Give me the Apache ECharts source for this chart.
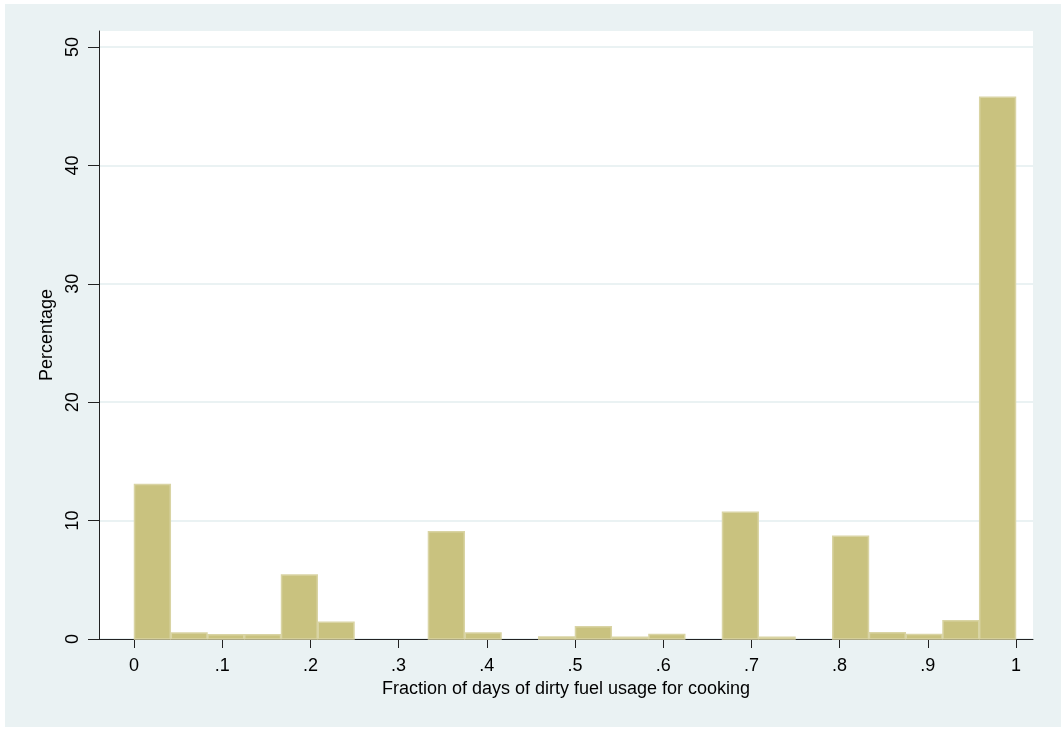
<!DOCTYPE html>
<html>
<head>
<meta charset="utf-8">
<script src="https://cdn.jsdelivr.net/npm/echarts@6/dist/echarts.min.js"></script>
<style>
  html, body { margin: 0; padding: 0; background: #ffffff; }
  #frame { position: absolute; left: 5px; top: 4px; width: 1056px; height: 723px; background: #EAF2F3; }
  #chart { width: 1056px; height: 723px; }
</style>
</head>
<body>
<div id="frame"><div id="chart"></div></div>
<script>
// Histogram bins (24 bins of equal width between 0 and 1)
const binStart = [0.0000, 0.0417, 0.0833, 0.1250, 0.1667, 0.2083, 0.2500, 0.2917,
                  0.3333, 0.3750, 0.4167, 0.4583, 0.5000, 0.5417, 0.5833, 0.6250,
                  0.6667, 0.7083, 0.7500, 0.7917, 0.8333, 0.8750, 0.9167, 0.9583];
const binEnd   = [0.0417, 0.0833, 0.1250, 0.1667, 0.2083, 0.2500, 0.2917, 0.3333,
                  0.3750, 0.4167, 0.4583, 0.5000, 0.5417, 0.5833, 0.6250, 0.6667,
                  0.7083, 0.7500, 0.7917, 0.8333, 0.8750, 0.9167, 0.9583, 1.0000];
const percentage = [13.1, 0.55, 0.4, 0.4, 5.45, 1.45, 0, 0,
                    9.1, 0.55, 0, 0.22, 1.07, 0.2, 0.42, 0,
                    10.75, 0.2, 0, 8.72, 0.56, 0.42, 1.58, 45.8];
const xTickValues = [0, 0.1, 0.2, 0.3, 0.4, 0.5, 0.6, 0.7, 0.8, 0.9, 1];
const xTickLabels = ['0', '.1', '.2', '.3', '.4', '.5', '.6', '.7', '.8', '.9', '1'];
const yTickValues = [0, 10, 20, 30, 40, 50];
const xTitle = 'Fraction of days of dirty fuel usage for cooking';
const yTitle = 'Percentage';

const data = binStart.map((s, i) => [s, binEnd[i], percentage[i]]).filter(d => d[2] > 0);

const chart = echarts.init(document.getElementById('chart'), null, { renderer: 'canvas' });
const font = 'Liberation Sans, Arial, sans-serif';

chart.setOption({
  backgroundColor: 'transparent',
  animation: false,
  grid: {
    left: 94, top: 27, right: 28, bottom: 88,
    show: true, backgroundColor: '#ffffff', borderWidth: 0
  },
  xAxis: {
    type: 'value',
    min: -0.0397, max: 1.0193,
    name: xTitle,
    nameLocation: 'middle',
    nameGap: 39,
    nameTextStyle: { fontFamily: font, fontSize: 18, color: '#000' },
    axisLine: { show: true, onZero: false, lineStyle: { color: '#222', width: 1 } },
    axisTick: { show: true, length: 9, customValues: xTickValues, lineStyle: { color: '#222', width: 1 } },
    axisLabel: {
      customValues: xTickValues,
      margin: 18,
      fontFamily: font, fontSize: 18, color: '#000',
      formatter: v => { const i = xTickValues.findIndex(t => Math.abs(t - v) < 1e-6); return i >= 0 ? xTickLabels[i] : ''; }
    },
    splitLine: { show: false }
  },
  yAxis: {
    type: 'value',
    min: 0, max: 51.35,
    name: yTitle,
    nameLocation: 'middle',
    nameGap: 42,
    nameRotate: 90,
    nameTextStyle: { fontFamily: font, fontSize: 18, color: '#000' },
    axisLine: { show: true, onZero: false, lineStyle: { color: '#222', width: 1 } },
    axisTick: { show: true, length: 11, customValues: yTickValues, lineStyle: { color: '#222', width: 1 } },
    axisLabel: {
      customValues: yTickValues,
      rotate: 90,
      margin: 17,
      fontFamily: font, fontSize: 18, color: '#000'
    },
    splitLine: { show: true, lineStyle: { color: '#EAF2F3', width: 2 } }
  },
  series: [{
    type: 'custom',
    data: data,
    encode: { x: [0, 1], y: 2 },
    renderItem: function (params, api) {
      const p0 = api.coord([api.value(0), api.value(2)]);
      const p1 = api.coord([api.value(1), 0]);
      return {
        type: 'rect',
        shape: { x: p0[0] + 0.5, y: p0[1] + 0.5, width: p1[0] - p0[0] - 1, height: p1[1] - p0[1] - 0.5 },
        style: { fill: '#C9C27F', stroke: '#D9D4A4', lineWidth: 1.5 }
      };
    }
  }]
});
</script>
</body>
</html>
